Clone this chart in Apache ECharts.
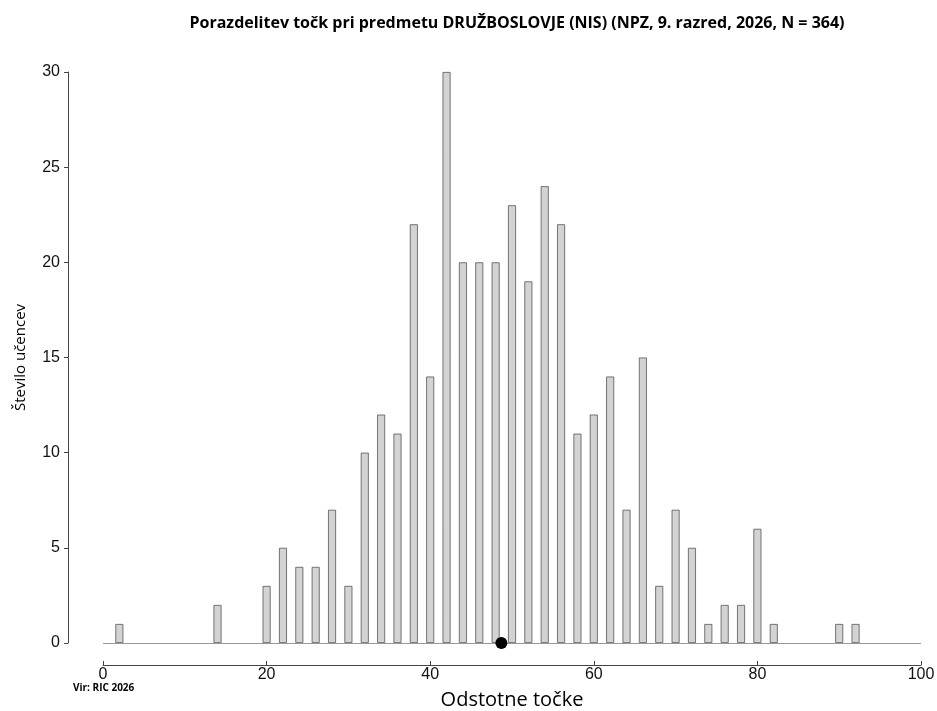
<!DOCTYPE html>
<html><head><meta charset="utf-8">
<script src="https://cdn.jsdelivr.net/npm/echarts@6/dist/echarts.min.js"></script>
<style>html,body{margin:0;padding:0;background:#fff}#c{width:937px;height:711px}</style>
</head><body><div id="c"></div>
<script>
var points = [2,14,20,22,24,26,28,30,32,34,36,38,40,42,44,46,48,50,52,54,56,58,60,62,64,66,68,70,72,74,76,78,80,82,90,92];
var counts = [1,2,3,5,4,4,7,3,10,12,11,22,14,30,20,20,20,23,19,24,22,11,12,14,7,15,3,7,5,1,2,2,6,1,1,1];
var meanScore = 48.7;
var xTicks = [0,20,40,60,80,100];
var yTicks = [0,5,10,15,20,25,30];
var titleText = 'Porazdelitev točk pri predmetu DRUŽBOSLOVJE (NIS) (NPZ, 9. razred, 2026, N = 364)';

var barData = points.map(function(p,i){return [p, counts[i]];});
var xMin = xTicks[0], xMax = xTicks[xTicks.length-1];
var yMin = yTicks[0], yMax = yTicks[yTicks.length-1];
var hiddenX = function(g){return {type:'value',gridIndex:g,min:xMin,max:xMax,show:false};};
var hiddenY = function(g){return {type:'value',gridIndex:g,min:yMin,max:yMax,show:false};};
var chart = echarts.init(document.getElementById('c'), null, {renderer:'canvas'});
chart.setOption({
  animation:false,
  backgroundColor:'#fff',
  title:{text:titleText,left:512,textAlign:'center',top:10,
    textStyle:{fontFamily:'Open Sans',fontWeight:'bold',fontSize:16,color:'#000'}},
  graphic:[{type:'text',left:73,top:683,style:{text:'Vir: RIC 2026',font:'bold 10px "Open Sans"',fill:'#000'}}],
  grid:[
    {left:103,right:16,top:72,bottom:68,outerBoundsMode:'none',containLabel:false},
    {left:103,right:16,top:72,bottom:46,outerBoundsMode:'none',containLabel:false},
    {left:68,right:16,top:72,bottom:68,outerBoundsMode:'none',containLabel:false}
  ],
  xAxis:[
    hiddenX(0),
    {type:'value',gridIndex:1,min:xMin,max:xMax,interval:20,
     name:'Odstotne točke',nameLocation:'middle',nameGap:25,
     nameTextStyle:{fontFamily:'Open Sans',fontSize:20,color:'#000'},
     axisLine:{show:true,lineStyle:{color:'#444',width:1}},
     axisTick:{show:true,inside:true,length:4,lineStyle:{color:'#444'}},
     axisLabel:{fontFamily:'Liberation Sans',fontSize:16,color:'#111',margin:2},
     splitLine:{show:false}},
    hiddenX(2)
  ],
  yAxis:[
    hiddenY(0),
    hiddenY(1),
    {type:'value',gridIndex:2,min:yMin,max:yMax,interval:5,
     name:'Število učencev',nameLocation:'middle',nameGap:40,
     nameTextStyle:{fontFamily:'Open Sans',fontSize:15,color:'#000'},
     axisLine:{show:true,lineStyle:{color:'#444',width:1}},
     axisTick:{show:true,length:4,lineStyle:{color:'#444'}},
     axisLabel:{fontFamily:'Liberation Sans',fontSize:16,color:'#111',margin:8},
     splitLine:{show:false}}
  ],
  series:[
    {type:'bar',xAxisIndex:0,yAxisIndex:0,data:barData,barWidth:8,
     itemStyle:{color:'#d3d3d3',borderColor:'#555',borderWidth:0.8},
     markLine:{silent:true,symbol:'none',label:{show:false},
       lineStyle:{color:'#999',width:1.2,type:'solid'},data:[{yAxis:0}]},
     z:2},
    {type:'scatter',xAxisIndex:0,yAxisIndex:0,data:[[meanScore,0]],symbolSize:12,
     itemStyle:{color:'#000',opacity:1},z:5}
  ]
});
</script></body></html>
